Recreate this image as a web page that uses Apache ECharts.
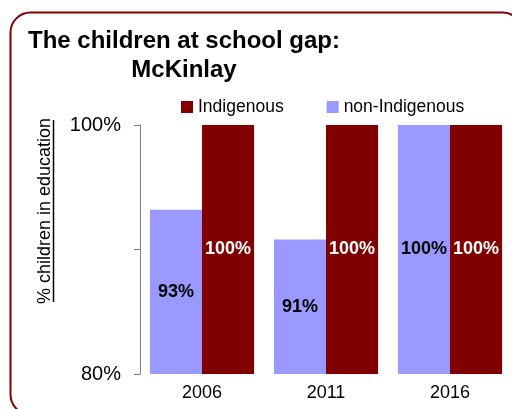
<!DOCTYPE html>
<html>
<head>
<meta charset="utf-8">
<script src="https://cdn.jsdelivr.net/npm/echarts@6/dist/echarts.min.js"></script>
<style>
  html, body { margin: 0; padding: 0; background: #fff; }
  #chart { width: 512px; height: 409px; }
</style>
</head>
<body>
<div id="chart"></div>
<script>
const years = ['2006', '2011', '2016'];
const nonIndigenous = [93.2, 90.8, 100];
const indigenous = [100, 100, 100];
const labelNonIndigenous = ['93%', '91%', '100%'];
const labelIndigenous = ['100%', '100%', '100%'];

const chart = echarts.init(document.getElementById('chart'));
const font = 'Liberation Sans, Arial, sans-serif';

chart.setOption({
  animation: false,
  textStyle: { fontFamily: font },
  graphic: [
    {
      // rounded frame, runs off the right and bottom edges
      type: 'rect',
      shape: { x: 10.5, y: 12.5, width: 512, height: 402, r: 20 },
      style: { fill: 'none', stroke: '#800000', lineWidth: 2 }
    },
    {
      type: 'text',
      x: 184, y: 29,
      style: { text: 'The children at school gap:', font: 'bold 24px ' + font, fill: '#000', align: 'center' }
    },
    {
      type: 'text',
      x: 184, y: 58,
      style: { text: 'McKinlay', font: 'bold 24px ' + font, fill: '#000', align: 'center' }
    },
    {
      type: 'text',
      x: 54, y: 211,
      rotation: Math.PI / 2,
      style: { text: '% children in education', font: '18px ' + font, fill: '#000', align: 'center', verticalAlign: 'bottom' }
    },
    {
      type: 'line',
      shape: { x1: 53.5, y1: 120, x2: 53.5, y2: 302 },
      style: { stroke: '#000', lineWidth: 1.5 }
    }
  ],
  legend: {
    data: ['Indigenous', 'non-Indigenous'],
    top: 93,
    left: 176,
    itemWidth: 12,
    itemHeight: 12,
    itemGap: 43,
    icon: 'rect',
    textStyle: { fontSize: 17.5, color: '#000', fontFamily: font }
  },
  grid: { left: 140, right: 0, top: 125, bottom: 35, containLabel: false },
  xAxis: {
    type: 'category',
    data: years,
    axisLine: { show: false },
    axisTick: { show: false },
    axisLabel: { fontSize: 18, color: '#000', margin: 10 }
  },
  yAxis: {
    type: 'value',
    min: 80,
    max: 100,
    interval: 10,
    splitLine: { show: false },
    axisLine: { show: true, lineStyle: { color: '#808080' } },
    axisTick: { show: true, length: 6, lineStyle: { color: '#808080' } },
    axisLabel: {
      fontSize: 20,
      color: '#000',
      margin: 19,
      formatter: v => (v === 90 ? '' : v + '%')
    }
  },
  series: [
    {
      name: 'non-Indigenous',
      type: 'bar',
      data: nonIndigenous,
      barGap: '0%',
      barCategoryGap: '16%',
      itemStyle: { color: '#9999ff' },
      label: {
        show: true,
        position: 'inside',
        color: '#000',
        fontWeight: 'bold',
        fontSize: 18,
        formatter: p => labelNonIndigenous[p.dataIndex]
      }
    },
    {
      name: 'Indigenous',
      type: 'bar',
      data: indigenous,
      itemStyle: { color: '#800000' },
      label: {
        show: true,
        position: 'inside',
        color: '#fff',
        fontWeight: 'bold',
        fontSize: 18,
        formatter: p => labelIndigenous[p.dataIndex]
      }
    }
  ]
});
</script>
</body>
</html>
